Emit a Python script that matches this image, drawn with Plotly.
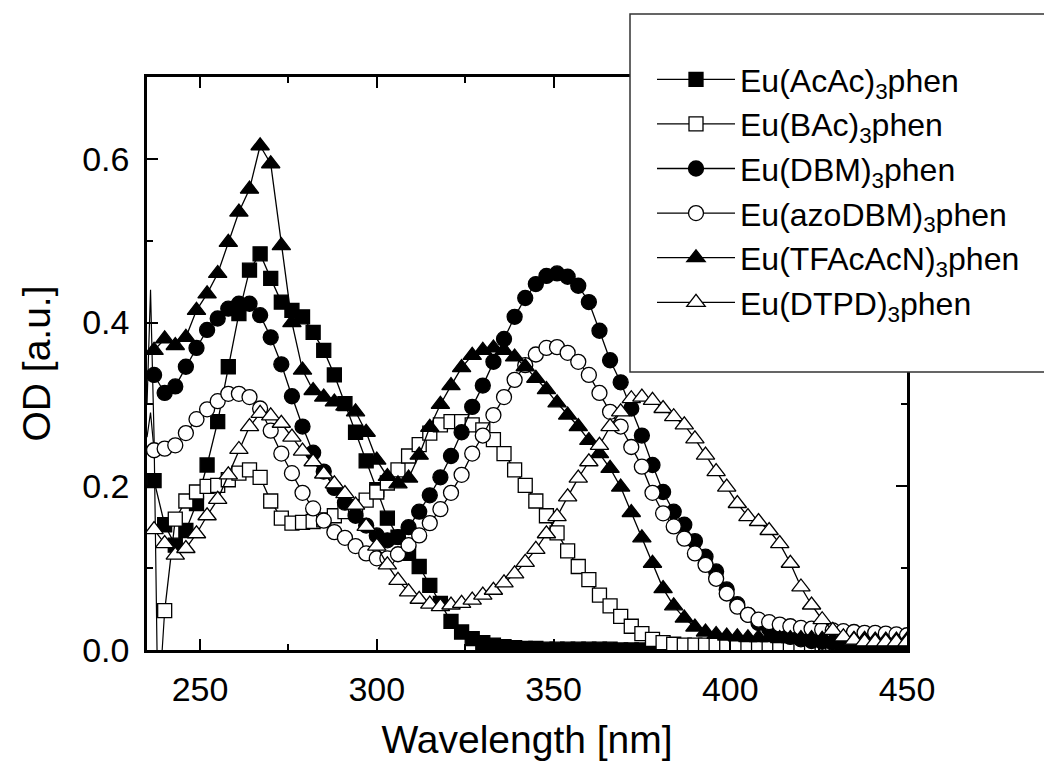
import plotly.graph_objects as go

# Wavelength grid of the marked data points (nm)
wl = list(range(237, 451, 3))

names = [
    "Eu(AcAc)<sub>3</sub>phen",
    "Eu(BAc)<sub>3</sub>phen",
    "Eu(DBM)<sub>3</sub>phen",
    "Eu(azoDBM)<sub>3</sub>phen",
    "Eu(TFAcAcN)<sub>3</sub>phen",
    "Eu(DTPD)<sub>3</sub>phen",
]

# Optical density of each complex on the wl grid (first value at the given start)
acac_start = 237
acac = [0.207, 0.153, 0.128, 0.146, 0.179, 0.226, 0.279, 0.346, 0.411, 0.464,
        0.484, 0.454, 0.425, 0.415, 0.407, 0.388, 0.366, 0.336, 0.301, 0.266,
        0.231, 0.196, 0.161, 0.138, 0.118, 0.102, 0.079, 0.057, 0.035, 0.022,
        0.014, 0.009, 0.006, 0.004, 0.003, 0.002, 0.002, 0.001, 0.001, 0.001,
        0.001, 0.001, 0.001, 0.001, 0.0, 0.0, 0.0, 0.0]

bac_start = 240
bac = [0.048, 0.160, 0.182, 0.193, 0.200, 0.201, 0.208, 0.216, 0.220, 0.211,
       0.182, 0.161, 0.155, 0.156, 0.157, 0.159, 0.164, 0.169, 0.175, 0.183,
       0.193, 0.204, 0.220, 0.237, 0.251, 0.265, 0.275, 0.279, 0.279, 0.275,
       0.269, 0.257, 0.240, 0.220, 0.201, 0.182, 0.164, 0.143, 0.121, 0.102,
       0.086, 0.067, 0.054, 0.041, 0.029, 0.020, 0.013, 0.009, 0.007, 0.006,
       0.006, 0.006, 0.006, 0.006, 0.006, 0.006, 0.006, 0.006, 0.006, 0.006,
       0.006, 0.006, 0.007, 0.008, 0.009, 0.009, 0.010, 0.010, 0.010, 0.009]

dbm_start = 237
dbm = [0.336, 0.314, 0.322, 0.346, 0.369, 0.391, 0.405, 0.417, 0.423, 0.423,
       0.409, 0.382, 0.349, 0.310, 0.273, 0.241, 0.218, 0.198, 0.180, 0.164,
       0.152, 0.140, 0.134, 0.138, 0.150, 0.169, 0.189, 0.211, 0.237, 0.266,
       0.297, 0.323, 0.352, 0.380, 0.407, 0.430, 0.447, 0.457, 0.460, 0.456,
       0.445, 0.425, 0.390, 0.354, 0.327, 0.295, 0.262, 0.226, 0.193, 0.169,
       0.153, 0.133, 0.114, 0.096, 0.074, 0.056, 0.043, 0.033, 0.026, 0.020,
       0.016, 0.013, 0.011, 0.010, 0.009, 0.008, 0.008, 0.007, 0.007, 0.007,
       0.006, 0.006]

azodbm_start = 237
azodbm = [0.244, 0.246, 0.250, 0.265, 0.282, 0.294, 0.304, 0.313, 0.313, 0.309,
          0.295, 0.268, 0.240, 0.216, 0.192, 0.173, 0.158, 0.144, 0.137, 0.127,
          0.118, 0.112, 0.112, 0.117, 0.128, 0.140, 0.155, 0.172, 0.192, 0.214,
          0.240, 0.262, 0.287, 0.309, 0.330, 0.348, 0.361, 0.369, 0.370, 0.363,
          0.352, 0.336, 0.314, 0.291, 0.273, 0.248, 0.224, 0.192, 0.167, 0.151,
          0.136, 0.118, 0.104, 0.087, 0.069, 0.053, 0.043, 0.037, 0.034, 0.031,
          0.029, 0.027, 0.026, 0.025, 0.024, 0.023, 0.022, 0.021, 0.021, 0.020,
          0.019, 0.018]

tfacacn_start = 237
tfacacn = [0.366, 0.380, 0.372, 0.382, 0.415, 0.435, 0.460, 0.498, 0.535, 0.563,
           0.616, 0.594, 0.494, 0.400, 0.342, 0.317, 0.309, 0.303, 0.298, 0.291,
           0.266, 0.232, 0.212, 0.203, 0.210, 0.238, 0.272, 0.300, 0.323, 0.345,
           0.360, 0.366, 0.369, 0.366, 0.358, 0.346, 0.332, 0.318, 0.302, 0.287,
           0.273, 0.256, 0.240, 0.222, 0.199, 0.168, 0.137, 0.106, 0.075, 0.054,
           0.039, 0.028, 0.022, 0.019, 0.017, 0.016, 0.015, 0.015, 0.015, 0.014,
           0.014, 0.014, 0.014, 0.013, 0.013, 0.013, 0.013, 0.013, 0.012, 0.012,
           0.012, 0.012]

dtpd_start = 237
dtpd = [0.147, 0.130, 0.116, 0.124, 0.142, 0.164, 0.184, 0.214, 0.245, 0.273,
        0.289, 0.286, 0.277, 0.260, 0.243, 0.230, 0.215, 0.203, 0.191, 0.177,
        0.151, 0.127, 0.104, 0.085, 0.071, 0.062, 0.056, 0.053, 0.055, 0.057,
        0.061, 0.067, 0.073, 0.082, 0.093, 0.107, 0.123, 0.142, 0.163, 0.187,
        0.210, 0.230, 0.250, 0.273, 0.291, 0.307, 0.309, 0.305, 0.295, 0.285,
        0.275, 0.258, 0.238, 0.218, 0.199, 0.179, 0.163, 0.157, 0.146, 0.130,
        0.106, 0.077, 0.055, 0.037, 0.024, 0.016, 0.012, 0.010, 0.010, 0.010,
        0.010, 0.010]

# Noisy 1 nm readings at the short-wavelength end (line only, no symbols)
bac_edge_x = [235, 236, 237, 238, 239, 240]
bac_edge_y = [0.30, 0.44, 0.26, -0.05, -0.02, 0.048]
azodbm_edge_x = [235, 236, 237]
azodbm_edge_y = [0.26, 0.29, 0.244]

series = [
    (names[0], acac_start, acac, "square", "black"),
    (names[1], bac_start, bac, "square", "white"),
    (names[2], dbm_start, dbm, "circle", "black"),
    (names[3], azodbm_start, azodbm, "circle", "white"),
    (names[4], tfacacn_start, tfacacn, "triangle-up", "black"),
    (names[5], dtpd_start, dtpd, "triangle-up", "white"),
]
sizes = {"square": 14, "circle": 15, "triangle-up": 16}

fig = go.Figure()

for ex, ey in [(bac_edge_x, bac_edge_y), (azodbm_edge_x, azodbm_edge_y)]:
    fig.add_trace(go.Scatter(x=ex, y=ey, mode="lines", showlegend=False,
                             line=dict(color="black", width=1.2),
                             hoverinfo="skip"))

for name, start, vals, sym, fill in series:
    i0 = wl.index(start)
    xs = wl[i0:i0 + len(vals)]
    fig.add_trace(go.Scatter(
        x=xs, y=vals, name=name, mode="lines+markers",
        line=dict(color="black", width=1.3),
        marker=dict(symbol=sym, size=sizes[sym], color=fill,
                    line=dict(color="black", width=1.3)),
    ))

axis_common = dict(
    showline=True, linecolor="black", linewidth=2.5, mirror="allticks",
    ticks="inside", ticklen=11, tickwidth=2, tickcolor="black",
    showgrid=False, zeroline=False,
    tickfont=dict(family="Liberation Sans, Arial", size=34, color="black"),
    title_font=dict(family="Liberation Sans, Arial", size=39, color="black"),
)

fig.update_xaxes(
    range=[235, 450], tickvals=[250, 300, 350, 400, 450],
    minor=dict(tickvals=[275, 325, 375, 425], ticks="inside", ticklen=6,
               tickwidth=2, tickcolor="black"),
    title_text="Wavelength [nm]", title_standoff=20, ticklabelstandoff=7,
    **axis_common,
)
fig.update_yaxes(
    range=[0, 0.7], tickvals=[0.0, 0.2, 0.4, 0.6], tickformat=".1f",
    minor=dict(tickvals=[0.1, 0.3, 0.5], ticks="inside", ticklen=6,
               tickwidth=2, tickcolor="black"),
    title_text="OD [a.u.]", title_standoff=20, ticklabelstandoff=8,
    **axis_common,
)

L, R, T, B = 147, 137, 77, 117
W, H = 1044, 767
pw, ph = W - L - R, H - T - B


def px_to_paper(x, y):
    return (x - L) / pw, (H - B - y) / ph


bx0, by0 = px_to_paper(630, 372)
bx1, by1 = px_to_paper(1060, 14)
fig.add_shape(type="rect", xref="paper", yref="paper",
              x0=bx0, y0=by0, x1=bx1, y1=by1, layer="above",
              line=dict(color="#333333", width=1.5), fillcolor="white")

lx, ly = px_to_paper(652, 52)
fig.update_layout(
    width=W, height=H,
    margin=dict(l=L, r=R, t=T, b=B, autoexpand=False),
    paper_bgcolor="white", plot_bgcolor="white",
    showlegend=True,
    legend=dict(x=lx, y=ly, xanchor="left", yanchor="top",
                bgcolor="rgba(0,0,0,0)", borderwidth=0,
                font=dict(family="Liberation Sans, Arial", size=32, color="black"),
                itemwidth=78, tracegroupgap=0),
    font=dict(family="Liberation Sans, Arial", color="black"),
)

fig.write_html("out.html")
